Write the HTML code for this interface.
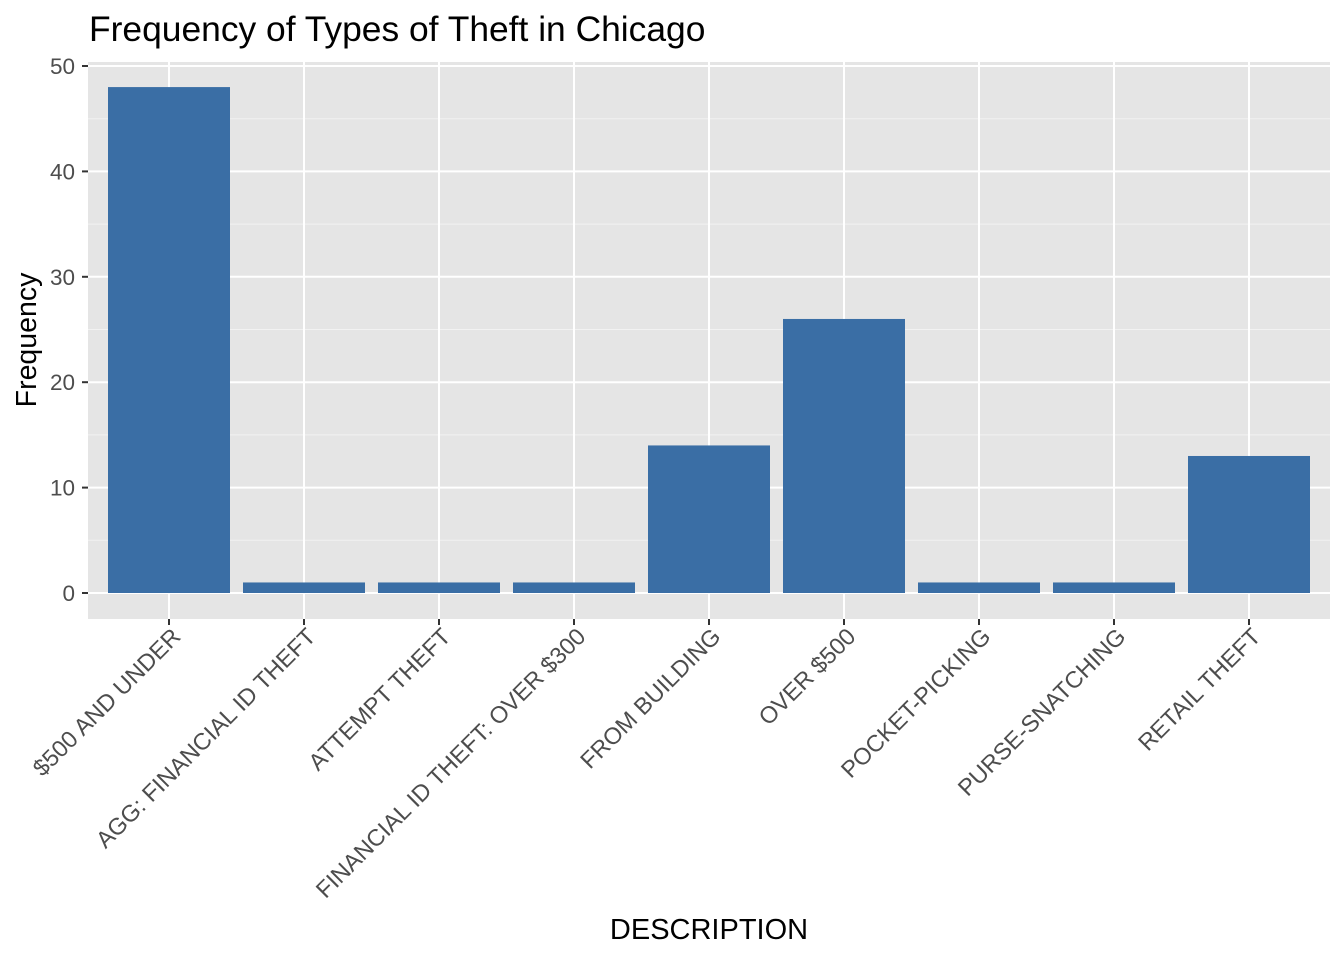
<!DOCTYPE html>
<html><head><meta charset="utf-8"><style>
html,body{margin:0;padding:0;background:#fff;}
svg{display:block;font-family:"Liberation Sans",Arial,sans-serif;}
</style></head><body>
<svg id="chart" width="1344" height="960" xmlns="http://www.w3.org/2000/svg">
<text x="89" y="41" font-size="35.4" fill="#000">Frequency of Types of Theft in Chicago</text>
<rect x="88" y="62" width="1242" height="557" fill="#e5e5e5"/>
<g id="grid"></g><g id="bars"></g><g id="yaxis"></g><g id="xaxis"></g>
<text x="709" y="939" font-size="29" text-anchor="middle" fill="#000">DESCRIPTION</text>
<text transform="translate(36,340) rotate(-90)" font-size="28.5" text-anchor="middle" fill="#000">Frequency</text>
</svg>
<script>
const categories=["$500 AND UNDER","AGG: FINANCIAL ID THEFT","ATTEMPT THEFT","FINANCIAL ID THEFT: OVER $300","FROM BUILDING","OVER $500","POCKET-PICKING","PURSE-SNATCHING","RETAIL THEFT"];
const values=[48,1,1,1,14,26,1,1,13];
const yTicks=[0,10,20,30,40,50];
const NS="http://www.w3.org/2000/svg";
const y0=593,y50=66;
function yScale(v){return y0-(y0-y50)*v/50;}
function xScale(i){return 169+135*i;}
const bw=122;
function mk(t,a,p){const e=document.createElementNS(NS,t);for(const k in a)e.setAttribute(k,a[k]);p.appendChild(e);return e;}
const grid=document.getElementById('grid'),bars=document.getElementById('bars'),ya=document.getElementById('yaxis'),xa=document.getElementById('xaxis');
for(let v=5;v<=55;v+=10){const y=yScale(v);if(y<62)continue;
 const l=mk('line',{x1:88,x2:1330,y1:y,y2:y,stroke:'#f2f2f2','stroke-width':1},grid);
 
 }
yTicks.forEach(v=>{const y=yScale(v);
 const l=mk('line',{x1:88,x2:1330,y1:y,y2:y,stroke:'#fff','stroke-width':2},grid);
 
 
 const t=mk('line',{x1:82,x2:88,y1:y,y2:y,stroke:'#333','stroke-width':2},ya);
 
 
 const tx=mk('text',{x:75,y:y+8,'font-size':22.5,'text-anchor':'end',fill:'#4d4d4d'},ya);
 tx.textContent=v;
 
 });
categories.forEach((c,i)=>{const x=xScale(i);
 const g=mk('line',{x1:x,x2:x,y1:62,y2:619,stroke:'#fff','stroke-width':2},grid);
 
 
 const b=mk('rect',{x:x-bw/2,y:yScale(values[i]),width:bw,height:yScale(0)-yScale(values[i]),fill:'#3a6ea5'},bars);
 
 
 const t=mk('line',{x1:x,x2:x,y1:619,y2:625,stroke:'#333','stroke-width':2},xa);
 
 
 const tx=mk('text',{transform:`translate(${x+13},${638}) rotate(-45)`,'font-size':23.5,'text-anchor':'end',fill:'#4d4d4d'},xa);
 tx.textContent=c;
 
 });
</script>
</body></html>
